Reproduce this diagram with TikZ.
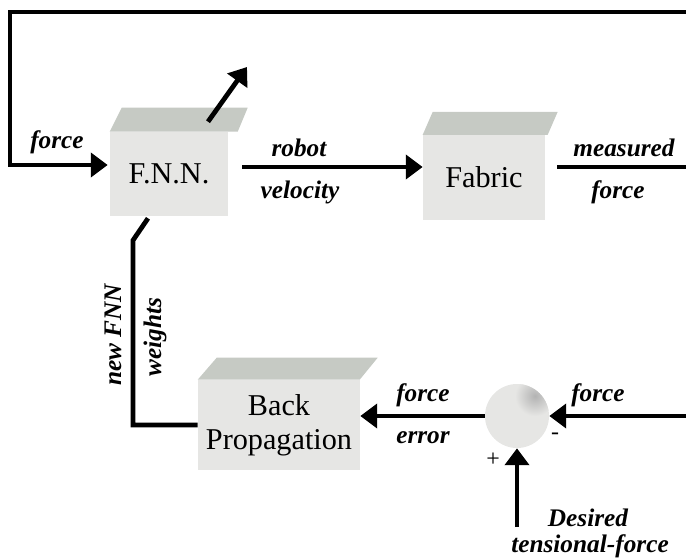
\documentclass[tikz,border=0pt]{standalone}
\usepackage{fontspec}
\setmainfont{Liberation Serif}
\usetikzlibrary{arrows.meta}
\definecolor{boxfront}{HTML}{E6E6E4}
\definecolor{boxtop}{HTML}{C6CAC4}
\tikzset{
  wire/.style={line width=3.4pt},
  flow/.style={wire,-{Triangle[length=12pt,width=17pt]}},
  block/.style={fill=boxfront,inner sep=0pt,align=center,font=\fontsize{21.5}{24}\selectfont},
  lbl/.style={font=\fontsize{18}{20}\selectfont\bfseries\itshape},
  sign/.style={font=\fontsize{17}{18}\selectfont},
}
\begin{document}
\begin{tikzpicture}[x=0.025cm,y=-0.025cm]
    \useasboundingbox (0,0) rectangle (686,559);
    \node[block,minimum width=2.95cm,minimum height=2.1cm] (fnn) at (169,174) {F.N.N.};
    \fill[boxtop] (fnn.north west) -- ++(12,-24) -- ++(126,0) -- ++(-10,24) -- cycle;
    \node[block,minimum width=3.05cm,minimum height=2.12cm] (fabric) at (484,177.5) {Fabric};
    \fill[boxtop] (fabric.north west) -- ++(10,-23) -- ++(125,0) -- ++(-10,23) -- cycle;
    \node[block,minimum width=4.05cm,minimum height=2.25cm] (bp) at (279,425) {Back\\Propagation};
    \fill[boxtop] (bp.north west) -- ++(19,-22) -- ++(161,0) -- ++(-18,22) -- cycle;
    \node[circle,fill=boxfront,minimum size=1.6cm,inner sep=0pt] (sum) at (517,416) {};
    \begin{scope}
        \clip (sum.center) circle[radius=0.8cm];
        \shade[inner color=gray!60,outer color=boxfront] ([shift={(18,-20)}]sum.center) circle[radius=0.5cm];
    \end{scope}
    \node[sign] (minus) at (555,436) {-};
    \node[sign] (plus) at (493,460) {+};

    \coordinate (loopin) at (686,12);
    \coordinate (loopcorner) at (10,12);
    \coordinate (fnnup) at (247,67);
    \coordinate (measout) at (686,167);
    \coordinate (fbin) at (686,416);
    \coordinate (desin) at (517,527);

    \draw[flow] (loopin) -- (loopcorner) |- ([shift={(-2,-9)}]fnn.west);
    \draw[flow] ([shift={(39,-10)}]fnn.north) -- (fnnup);
    \draw[flow] ([shift={(14,-7)}]fnn.east) -- ([shift={(0,-10.5)}]fabric.west);
    \draw[wire] ([shift={(12,-10.5)}]fabric.east) -- (measout);
    \draw[wire] ([shift={(-21,2)}]fnn.south) -- ++(-15,22) |- (bp.west);
    \draw[flow] (fbin) -- (sum.east);
    \draw[flow] (sum.west) -- (sum.west -| bp.east);
    \draw[flow] (desin) -- (sum.south);

    \node[lbl] (lforce) at (57,142) {force};
    \node[lbl] (lrobot) at (299,148) {robot};
    \node[lbl] (lvel) at (300,192) {velocity};
    \node[lbl] (lmeas) at (624,148) {measured};
    \node[lbl] (lmforce) at (618,192) {force};
    \node[lbl,rotate=90] (lnew) at (113,335) {new FNN};
    \node[lbl,rotate=90] (lwts) at (155,337) {weights};
    \node[lbl] (lfb) at (598,395) {force};
    \node[lbl] (lerrf) at (423,395) {force};
    \node[lbl] (lerr) at (423,438) {error};
    \node[lbl] (ldes) at (588,518) {Desired};
    \node[lbl] (lten) at (590,546) {tensional-force};
\end{tikzpicture}
\end{document}
